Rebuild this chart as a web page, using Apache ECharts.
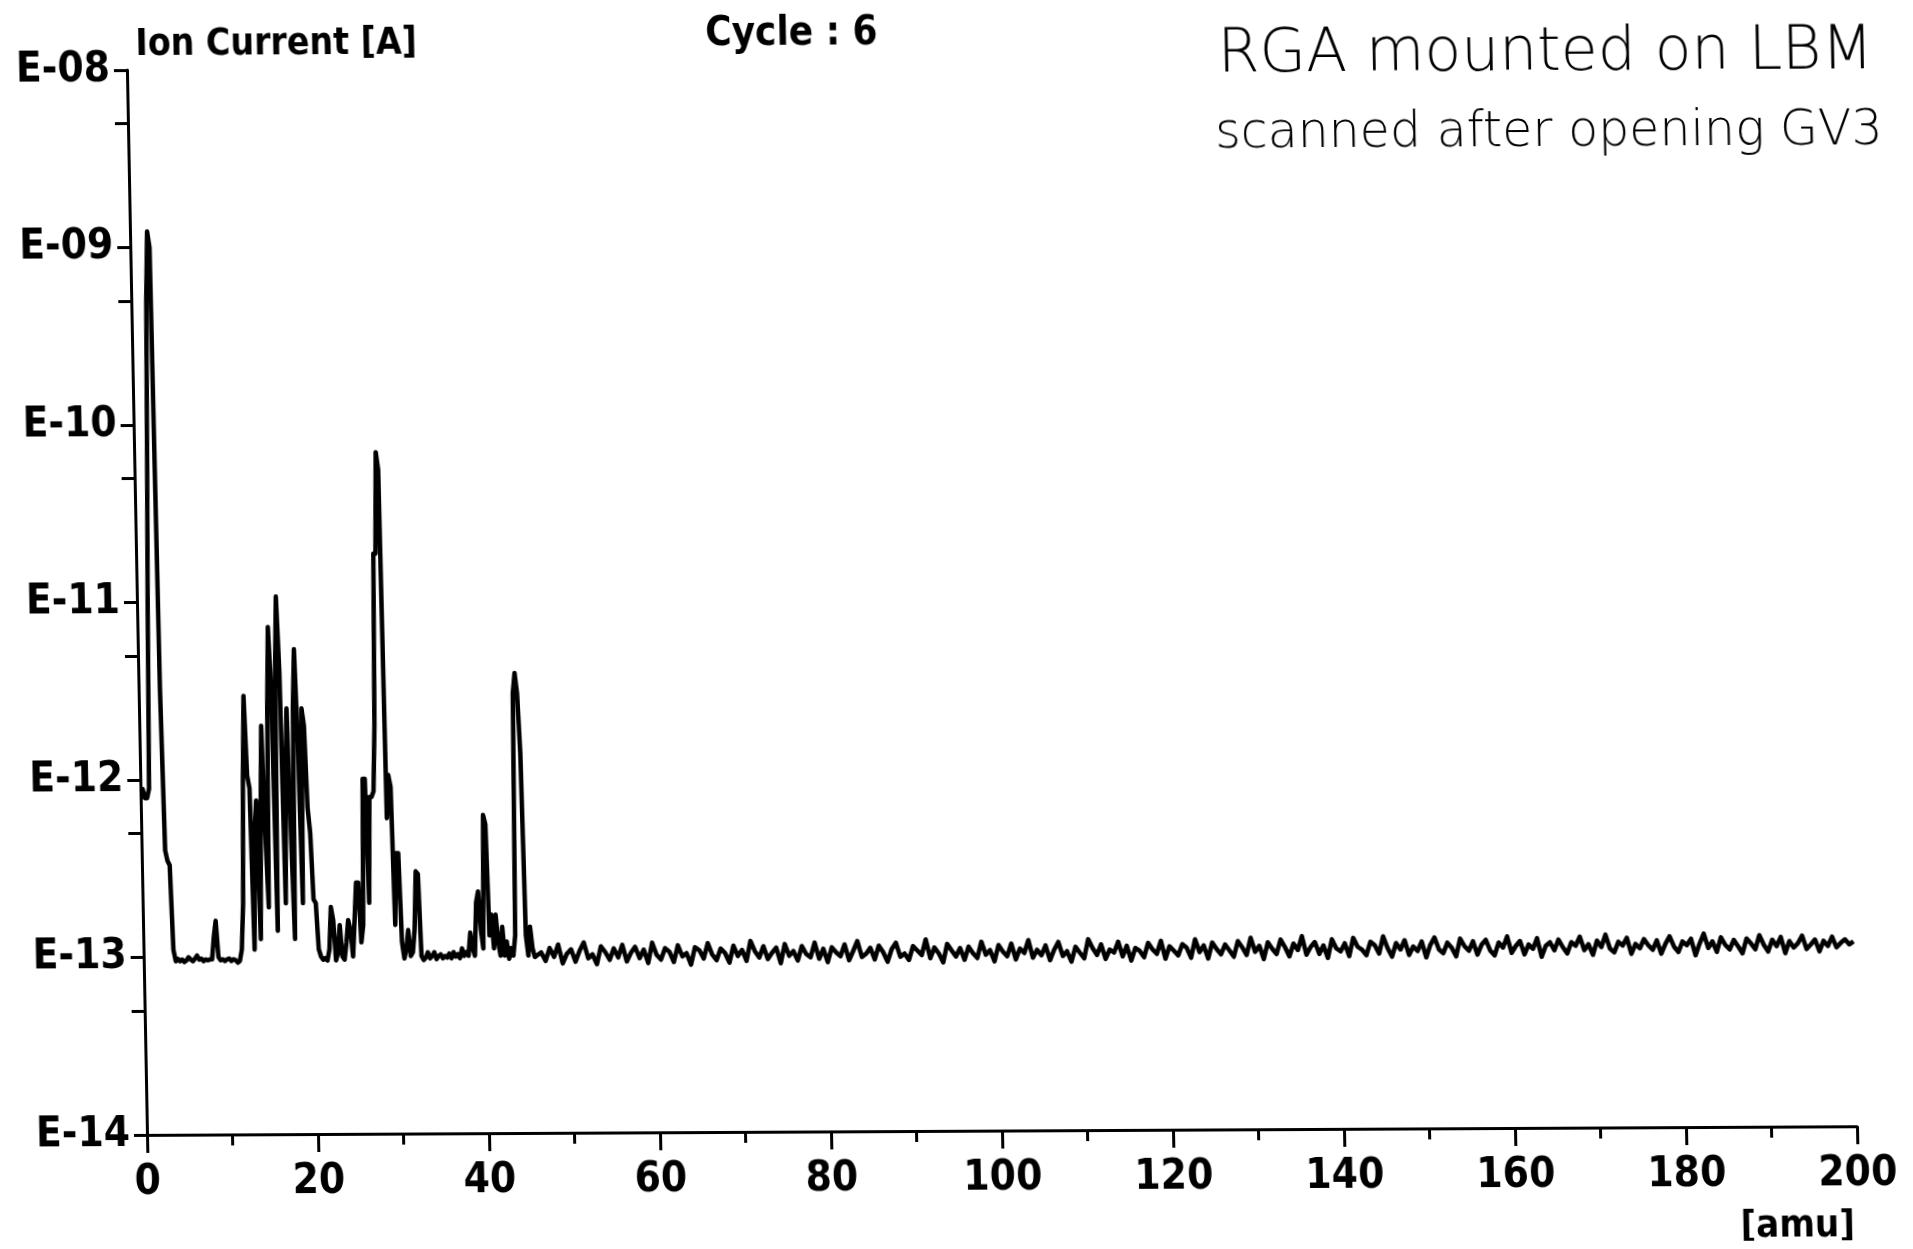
<!DOCTYPE html>
<html>
<head>
<meta charset="utf-8">
<title>RGA scan - Ion Current</title>
<script src="https://cdn.jsdelivr.net/npm/echarts/dist/echarts.min.js"></script>
<style>
  html, body { margin: 0; padding: 0; background: #fff; overflow: hidden; }
  /* the scan is a little crooked, keep that */
  #chart {
    width: 1913px;
    height: 1249px;
    transform-origin: 147px 1135px;
    transform: rotate(-0.29deg) skewX(0.79deg);
  }
</style>
</head>
<body>
<div id="chart"></div>
<script>
// ion current in units of 1e-13 A, 0..46 amu every 0.25 amu (one row per amu)
const lowMassCurrent = [
  8.9, 8.9, 7.9, 7.9,
  8.9, 100, 630, 5000,
  12300, 10000, 32, 4.0,
  3.5, 3.3, 1.1, 0.95,
  0.98, 0.95, 0.97, 0.94,
  0.96, 1.0, 0.97, 0.95,
  0.98, 1.02, 0.97, 0.98,
  0.95, 0.97, 0.96, 0.97,
  0.97, 1.3, 1.6, 1.0,
  0.96, 0.97, 0.95, 0.97,
  0.98, 0.95, 0.97, 0.96,
  0.93, 0.95, 1.1, 2.0,
  10, 29.5, 10.5, 8.9,
  1.1, 5, 7.6, 1.26,
  6.3, 20, 5, 1.9,
  25, 72, 32, 1.4,
  40, 107, 40, 2.0,
  10, 25, 5, 1.26,
  25, 54, 16, 2.0,
  25, 20, 6.9, 5,
  2.1, 2.0, 1.1, 1.0,
  0.96, 0.98, 0.95, 1.1,
  1.9, 1.6, 0.95, 1.05,
  1.5, 1.0, 0.96, 1.2,
  1.6, 1.4, 1.0, 1.6,
  2.6, 2.6, 1.2, 1.5,
  10, 10, 2.0, 7.9,
  7.9, 8.5, 20, 186,
  186, 692, 550, 6,
  10.5, 9, 1.5, 3.8,
  3.8, 1.2, 0.97, 1.1,
  1.4, 1.0, 1.05, 1.4,
  3.0, 2.9, 1.0, 0.95,
  0.98, 1.05, 0.97, 1.0,
  1.05, 0.96, 1.0, 1.02,
  0.97, 1.0, 0.98, 1.03,
  0.97, 1.05, 0.99, 1.02,
  0.97, 1.1, 1.0, 1.05,
  1.0, 1.35, 1.1, 1.0,
  2.0, 2.3, 1.4, 1.1,
  6.2, 5.5, 1.3, 1.7,
  1.1, 1.7, 1.2, 1.0,
  1.45, 1.0, 1.2, 0.96,
  1.1, 1.0, 1.3, 30,
  39, 30, 13.8, 1.3,
  1.0, 1.45, 1.1, 0.98,
  1.0
];

// ion current in units of 1e-13 A, 46.5..200 amu every 0.5 amu (one row per 10 amu)
const highMassCurrent = [
  1.04, 0.93, 1.10, 0.98, 1.15, 0.90, 1.02, 1.08, 0.92, 1.06, 1.18, 0.96, 1.01, 0.89, 1.12, 1.04, 0.94, 1.09, 0.97, 1.14,
  0.92, 1.03, 1.11, 0.96, 1.07, 0.90, 1.17, 1.00, 0.94, 1.09, 1.04, 0.91, 1.13, 0.98, 1.02, 0.88, 1.10, 1.06, 0.95, 1.16,
  1.00, 0.93, 1.08, 1.02, 0.90, 1.12, 0.98, 1.06, 0.92, 1.19, 1.04, 0.96, 1.11, 0.94, 1.02, 1.09, 0.89, 1.14, 0.98, 1.04,
  0.92, 1.11, 1.00, 0.96, 1.16, 0.94, 1.07, 0.90, 1.09, 1.02, 0.97, 1.13, 0.92, 1.04, 1.18, 0.96, 1.00, 1.08, 0.93, 1.11,
  1.02, 0.90, 1.06, 1.15, 0.96, 1.00, 0.92, 1.10, 1.04, 0.98, 1.20, 0.94, 1.08, 1.00, 0.89, 1.13, 1.04, 0.96, 1.07, 0.92,
  1.09, 1.00, 0.94, 1.16, 0.98, 1.04, 0.90, 1.11, 1.02, 0.96, 1.13, 0.92, 1.06, 1.00, 1.18, 0.94, 1.04, 0.97, 1.10, 0.91,
  1.04, 1.15, 0.96, 1.02, 0.89, 1.08, 1.00, 0.93, 1.19, 1.06, 0.97, 1.11, 0.92, 1.04, 1.00, 1.15, 0.95, 1.09, 0.90, 1.06,
  1.02, 0.94, 1.13, 1.04, 0.98, 1.16, 0.92, 1.08, 1.02, 0.96, 1.11, 1.06, 0.93, 1.18, 1.00, 1.09, 0.92, 1.13, 1.04, 0.97,
  1.10, 1.02, 0.94, 1.15, 1.06, 0.96, 1.20, 1.00, 1.08, 0.91, 1.13, 1.04, 0.97, 1.17, 1.06, 0.94, 1.11, 1.02, 1.22, 0.96,
  1.06, 1.13, 0.97, 1.08, 0.92, 1.17, 1.04, 1.00, 1.11, 0.94, 1.19, 1.06, 1.02, 0.95, 1.13, 1.08, 0.97, 1.21, 1.04, 0.93,
  1.11, 1.02, 1.15, 0.95, 1.06, 1.00, 1.13, 0.92, 1.08, 1.19, 1.02, 0.97, 1.11, 1.04, 0.93, 1.17, 1.06, 1.00, 1.13, 0.95,
  1.08, 1.15, 1.00, 0.94, 1.11, 1.04, 1.20, 0.97, 1.06, 1.13, 0.95, 1.08, 1.02, 1.17, 0.92, 1.06, 1.11, 1.00, 1.15, 1.04,
  0.96, 1.11, 1.06, 1.19, 1.00, 1.08, 0.94, 1.13, 1.04, 1.22, 1.02, 0.97, 1.11, 1.06, 1.17, 0.95, 1.08, 1.02, 1.15, 1.06,
  1.00, 1.13, 0.95, 1.08, 1.19, 1.04, 0.97, 1.11, 1.06, 1.15, 0.93, 1.08, 1.23, 1.02, 1.11, 0.97, 1.17, 1.06, 1.00, 1.13,
  1.04, 0.95, 1.15, 1.08, 1.00, 1.20, 1.06, 0.97, 1.13, 1.04, 1.17, 0.95, 1.11, 1.02, 1.08, 1.19, 1.00, 1.06, 1.13, 0.97,
  1.11, 1.04, 1.17, 1.02, 1.08, 1.13, 1.06, 1.10
];

const lowMassStep = 0.25;
const highMassStart = 46.5;
const highMassStep = 0.5;
const currentUnit = 1e-13;

// y ticks: decades plus the 5x marks in between
const yTickCurrents = [1e-14, 5e-14, 1e-13, 5e-13, 1e-12, 5e-12, 1e-11, 5e-11, 1e-10, 5e-10, 1e-9, 5e-9, 1e-8];

const titleText = 'Ion Current [A]';
const cycleText = 'Cycle : 6';
const unitText = '[amu]';
const noteLines = ['RGA mounted on LBM', 'scanned after opening GV3'];

const printFont = '"Liberation Sans Narrow", "DejaVu Sans Condensed", sans-serif';
const handFont = '"DejaVu Sans", sans-serif';

var spectrum = [];
lowMassCurrent.forEach((v, i) => spectrum.push([i * lowMassStep, v * currentUnit]));
highMassCurrent.forEach((v, i) => spectrum.push([highMassStart + i * highMassStep, v * currentUnit]));

var chartDom = document.getElementById('chart');
var myChart = echarts.init(chartDom, null, { renderer: 'canvas' });

var labelStyle = {
  color: '#000',
  fontFamily: printFont,
  fontWeight: 'bold',
  fontSize: 42
};

var option = {
  animation: false,
  backgroundColor: '#fff',
  grid: {
    left: 147,
    top: 70,
    right: 56,
    bottom: 114,
    containLabel: false,
    outerBoundsMode: 'none'
  },
  xAxis: {
    type: 'value',
    min: 0,
    max: 200,
    interval: 20,
    axisLine: { onZero: false, lineStyle: { color: '#000', width: 3 } },
    axisTick: { length: 18, lineStyle: { color: '#000', width: 3 } },
    minorTick: { show: true, splitNumber: 2, length: 11, lineStyle: { color: '#000', width: 3 } },
    splitLine: { show: false },
    axisLabel: { ...labelStyle, margin: 27 }
  },
  yAxis: [
    {
      type: 'log',
      logBase: 10,
      min: 1e-14,
      max: 1e-8,
      splitNumber: 6,
      position: 'left',
      axisLine: { show: true, onZero: false, lineStyle: { color: '#000', width: 3 } },
      axisTick: { show: false },
      splitLine: { show: false },
      axisLabel: {
        ...labelStyle,
        margin: 17,
        formatter: (v) => 'E-' + String(Math.round(-Math.log10(v))).padStart(2, '0')
      }
    },
    {
      // only carries the tick marks (the log axis can't place the 5x ones)
      type: 'value',
      min: -14,
      max: -8,
      position: 'left',
      axisLine: { show: false, onZero: false },
      axisLabel: { show: false },
      splitLine: { show: false },
      axisTick: {
        show: true,
        length: 13,
        customValues: yTickCurrents.map((v) => Math.log10(v)),
        lineStyle: { color: '#000', width: 3 }
      }
    }
  ],
  graphic: [
    {
      type: 'text', x: 156, y: 45,
      style: { text: titleText, fill: '#000', font: 'bold 37px ' + printFont, textAlign: 'left', textVerticalAlign: 'middle' }
    },
    {
      type: 'text', x: 726, y: 38,
      style: { text: cycleText, fill: '#000', font: 'bold 40px ' + printFont, textAlign: 'left', textVerticalAlign: 'middle' }
    },
    {
      type: 'text', x: 1853, y: 1235,
      style: { text: unitText, fill: '#000', font: 'bold 38px ' + printFont, textAlign: 'right', textVerticalAlign: 'middle' }
    },
    {
      type: 'text', x: 1238, y: 61,
      style: { text: noteLines[0], fill: '#000', font: '200 60px ' + handFont, textAlign: 'left', textVerticalAlign: 'middle' }
    },
    {
      type: 'text', x: 1234, y: 140,
      style: { text: noteLines[1], fill: '#000', font: '200 49px ' + handFont, textAlign: 'left', textVerticalAlign: 'middle' }
    }
  ],
  series: [
    {
      type: 'line',
      xAxisIndex: 0,
      yAxisIndex: 0,
      data: spectrum,
      showSymbol: false,
      symbol: 'none',
      silent: true,
      lineStyle: { color: '#000', width: 4.5, join: 'round' }
    }
  ]
};

myChart.setOption(option);
</script>
</body>
</html>
